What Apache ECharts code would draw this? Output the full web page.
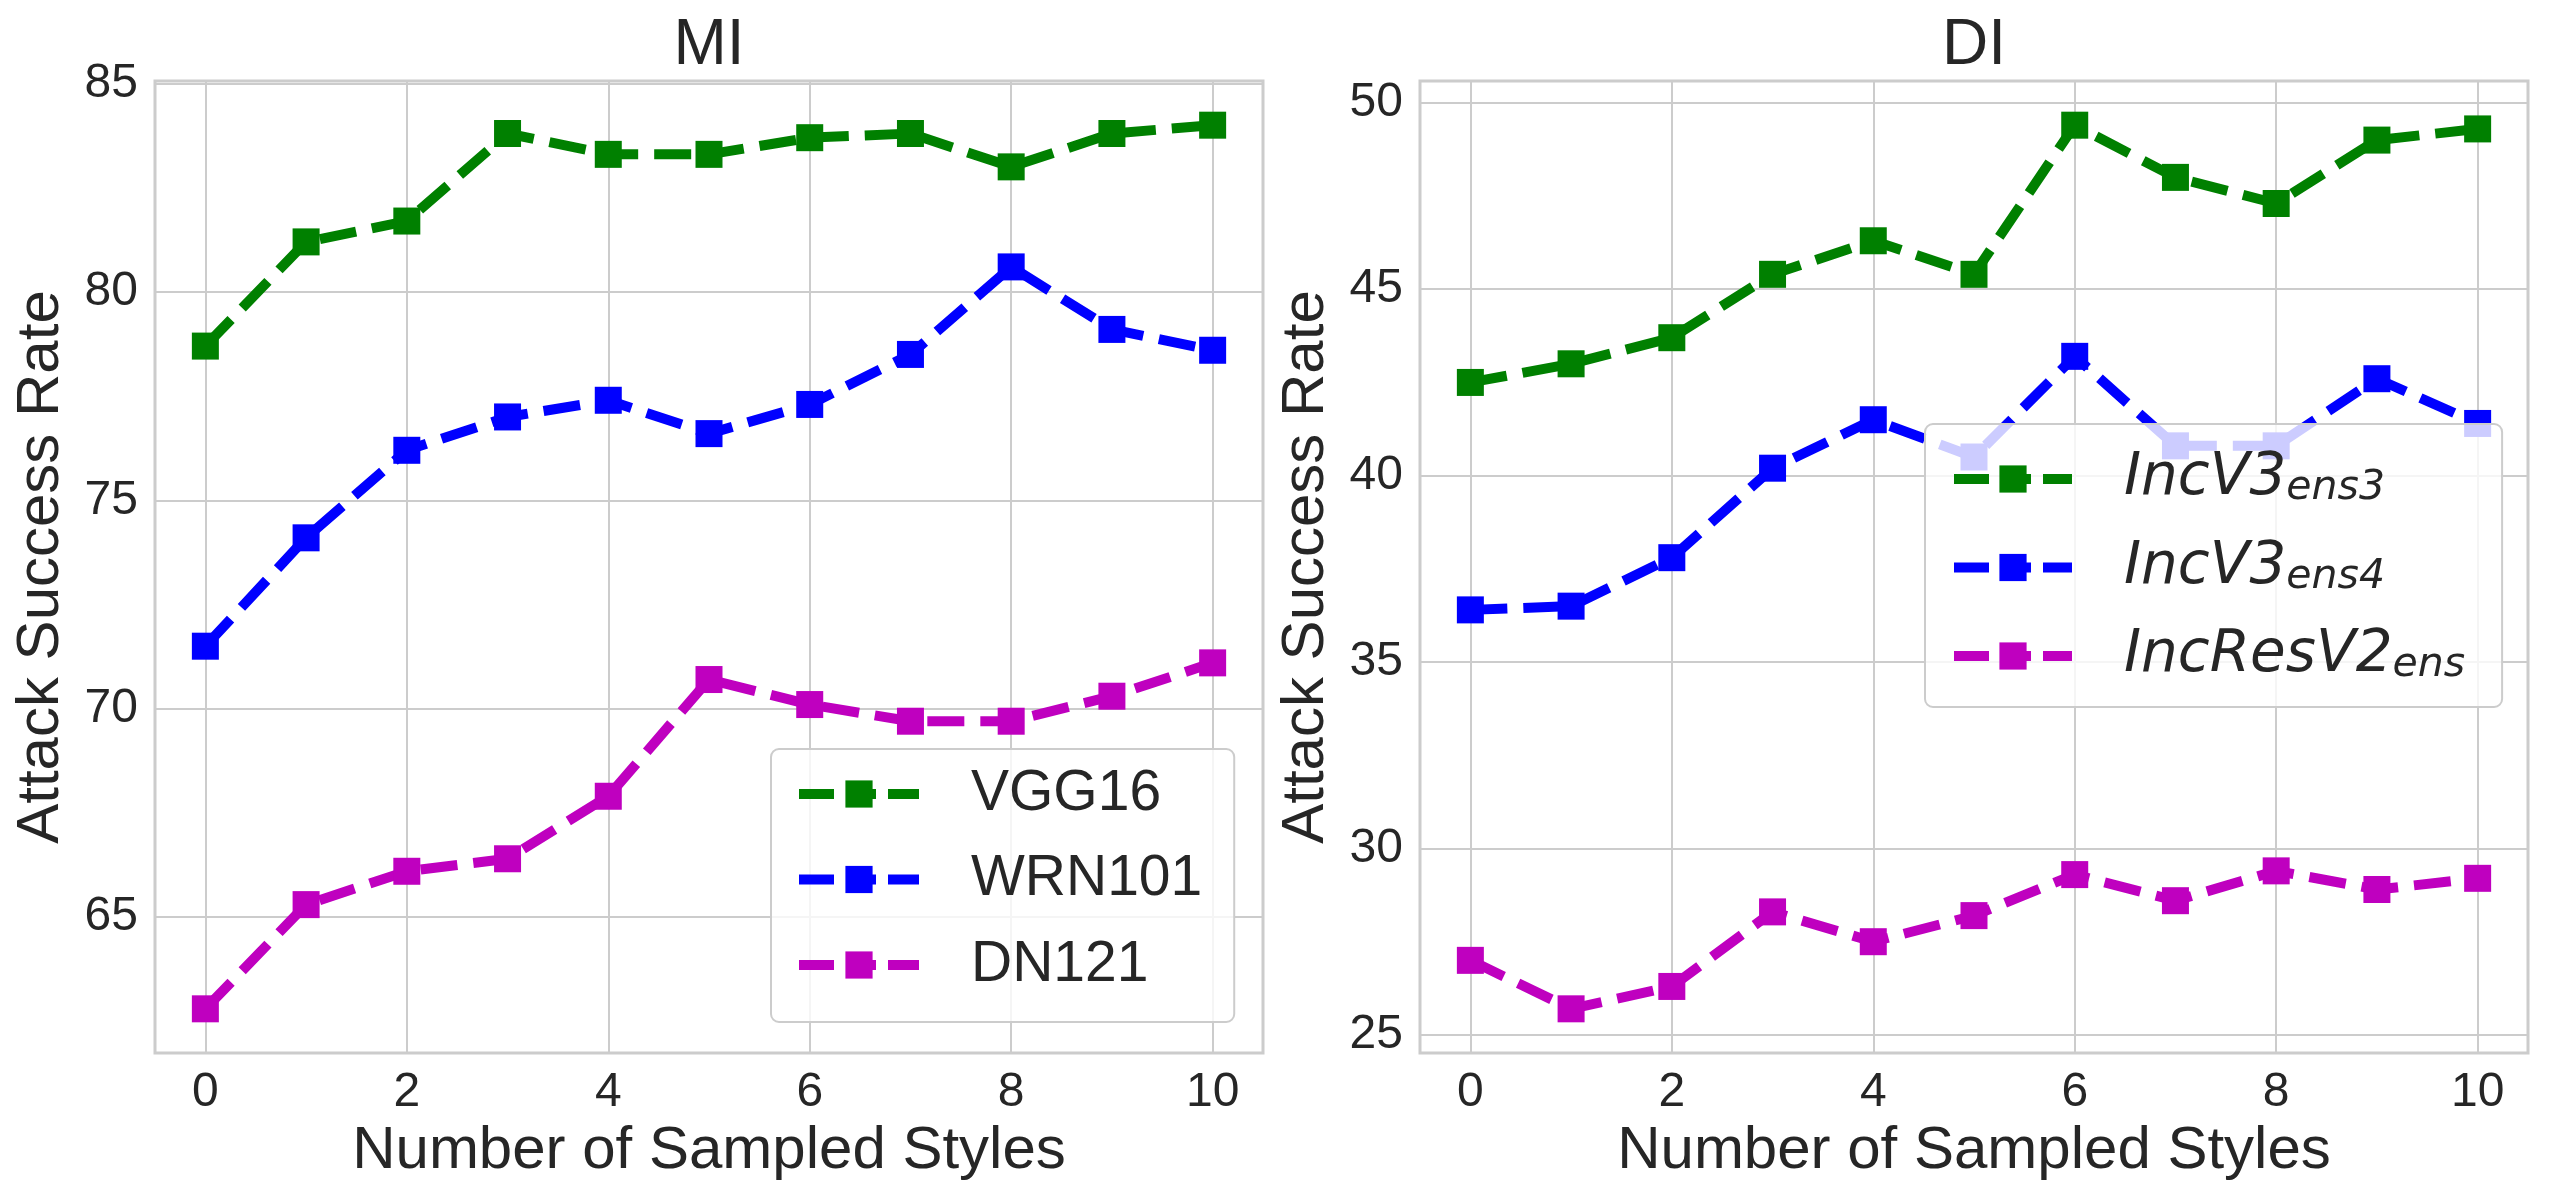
<!DOCTYPE html>
<html>
<head>
<meta charset="utf-8">
<script src="https://cdn.jsdelivr.net/npm/echarts@6/dist/echarts.min.js"></script>
<style>
  html, body { margin: 0; padding: 0; background: #fff; }
  #main { width: 2550px; height: 1200px; }
</style>
</head>
<body>
<div id="main"></div>
<script>
// number of sampled styles (x)
var styles = [0, 1, 2, 3, 4, 5, 6, 7, 8, 9, 10];

// MI panel
var vgg16  = [78.7, 81.2, 81.7, 83.8, 83.3, 83.3, 83.7, 83.8, 83.0, 83.8, 84.0];
var wrn101 = [71.5, 74.1, 76.2, 77.0, 77.4, 76.6, 77.3, 78.5, 80.6, 79.1, 78.6];
var dn121  = [62.8, 65.3, 66.1, 66.4, 67.9, 70.7, 70.1, 69.7, 69.7, 70.3, 71.1];

// DI panel
var incV3ens3   = [42.5, 43.0, 43.7, 45.4, 46.3, 45.4, 49.4, 48.0, 47.3, 49.0, 49.3];
var incV3ens4   = [36.4, 36.5, 37.8, 40.2, 41.5, 40.5, 43.2, 40.8, 40.8, 42.6, 41.4];
var incResV2ens = [27.0, 25.7, 26.3, 28.3, 27.5, 28.2, 29.3, 28.6, 29.4, 28.9, 29.2];

var panelTitles = ['MI', 'DI'];
var xName = 'Number of Sampled Styles';
var yName = 'Attack Success Rate';

var FONT = 'Liberation Sans, Arial, sans-serif';
var TXT = '#262626';
var GRIDC = '#cccccc';
var DASH = [37, 16];

// matplotlib-like 5% margins
function limits(arrs) {
    var all = [].concat.apply([], arrs);
    var lo = Math.min.apply(null, all), hi = Math.max.apply(null, all);
    var m = (hi - lo) * 0.05;
    return [lo - m, hi + m];
}
var limMI = limits([vgg16, wrn101, dn121]);
var limDI = limits([incV3ens3, incV3ens4, incResV2ens]);

function mkLine(name, values, color, idx) {
    return {
        name: name,
        type: 'line',
        xAxisIndex: idx,
        yAxisIndex: idx,
        data: styles.map(function (x, i) { return [x, values[i]]; }),
        symbol: 'rect',
        symbolSize: 27,
        showAllSymbol: true,
        lineStyle: { color: color, width: 10, type: DASH },
        itemStyle: { color: color },
        emphasis: { disabled: true }
    };
}

function mkX(idx) {
    return {
        type: 'value', gridIndex: idx, min: -0.5, max: 10.5,
        minInterval: 2, maxInterval: 2,
        axisLine: { show: false }, axisTick: { show: false },
        splitLine: { show: true, lineStyle: { color: GRIDC, width: 2 } },
        axisLabel: { fontSize: 48, color: TXT, fontFamily: FONT, margin: 16,
                     showMinLabel: false, showMaxLabel: false },
        name: xName, nameLocation: 'middle', nameGap: 65,
        nameTextStyle: { fontSize: 60, color: TXT, fontFamily: FONT }
    };
}

function mkY(idx, lim) {
    return {
        type: 'value', gridIndex: idx, min: lim[0], max: lim[1],
        minInterval: 5, maxInterval: 5,
        axisLine: { show: false }, axisTick: { show: false },
        splitLine: { show: true, lineStyle: { color: GRIDC, width: 2 } },
        axisLabel: { fontSize: 48, color: TXT, fontFamily: FONT, margin: 17,
                     showMinLabel: false, showMaxLabel: false },
        name: yName, nameLocation: 'middle', nameGap: 84,
        nameTextStyle: { fontSize: 60, color: TXT, fontFamily: FONT }
    };
}

var subNames = {
    'IncV3ens3': ['IncV3', 'ens3'],
    'IncV3ens4': ['IncV3', 'ens4'],
    'IncResV2ens': ['IncResV2', 'ens']
};

var legendBox = {
    orient: 'vertical',
    backgroundColor: 'rgba(255,255,255,0.8)',
    borderColor: GRIDC, borderWidth: 2, borderRadius: 8,
    // legend handle: dash, gap, (marker), gap, dash
    lineStyle: { width: 10, type: [35, 13, 29, 12, 31] },
    itemStyle: { borderWidth: 0 }
};

var chart = echarts.init(document.getElementById('main'));
var option = {
    animation: false,
    backgroundColor: '#ffffff',
    title: [
        { text: panelTitles[0], left: 709, top: 14, textAlign: 'center', padding: 0,
          textStyle: { fontSize: 64, fontWeight: 'normal', color: TXT, fontFamily: FONT } },
        { text: panelTitles[1], left: 1974, top: 14, textAlign: 'center', padding: 0,
          textStyle: { fontSize: 64, fontWeight: 'normal', color: TXT, fontFamily: FONT } }
    ],
    grid: [
        { left: 155, top: 81, width: 1108, height: 972, show: true,
          borderColor: GRIDC, borderWidth: 3, backgroundColor: '#fff' },
        { left: 1420, top: 81, width: 1108, height: 972, show: true,
          borderColor: GRIDC, borderWidth: 3, backgroundColor: '#fff' }
    ],
    xAxis: [mkX(0), mkX(1)],
    yAxis: [mkY(0, limMI), mkY(1, limDI)],
    legend: [
        Object.assign({}, legendBox, {
            data: ['VGG16', 'WRN101', 'DN121'],
            left: 771, top: 749,
            itemWidth: 120, itemHeight: 34, itemGap: 25.5,
            padding: [15, 32, 27, 23],
            textStyle: { fontSize: 57, lineHeight: 60, color: TXT, fontFamily: FONT,
                         padding: [0, 0, 0, 47] }
        }),
        Object.assign({}, legendBox, {
            data: ['IncV3ens3', 'IncV3ens4', 'IncResV2ens'],
            left: 1925, top: 424,
            itemWidth: 118, itemHeight: 34, itemGap: 29.5,
            padding: [26, 37, 21, 24],
            formatter: function (name) {
                var p = subNames[name];
                return '{a|' + p[0] + '}{b|' + p[1] + '}';
            },
            textStyle: {
                color: TXT, padding: [0, 0, 0, 47],
                rich: {
                    a: { fontSize: 58, lineHeight: 60, fontStyle: 'italic',
                         fontFamily: 'DejaVu Sans', color: TXT },
                    b: { fontSize: 41, lineHeight: 30, fontStyle: 'italic',
                         fontFamily: 'DejaVu Sans', color: TXT, verticalAlign: 'bottom' }
                }
            }
        })
    ],
    series: [
        mkLine('VGG16', vgg16, '#008000', 0),
        mkLine('WRN101', wrn101, '#0000ff', 0),
        mkLine('DN121', dn121, '#bf00bf', 0),
        mkLine('IncV3ens3', incV3ens3, '#008000', 1),
        mkLine('IncV3ens4', incV3ens4, '#0000ff', 1),
        mkLine('IncResV2ens', incResV2ens, '#bf00bf', 1)
    ]
};
chart.setOption(option);
</script>
</body>
</html>
